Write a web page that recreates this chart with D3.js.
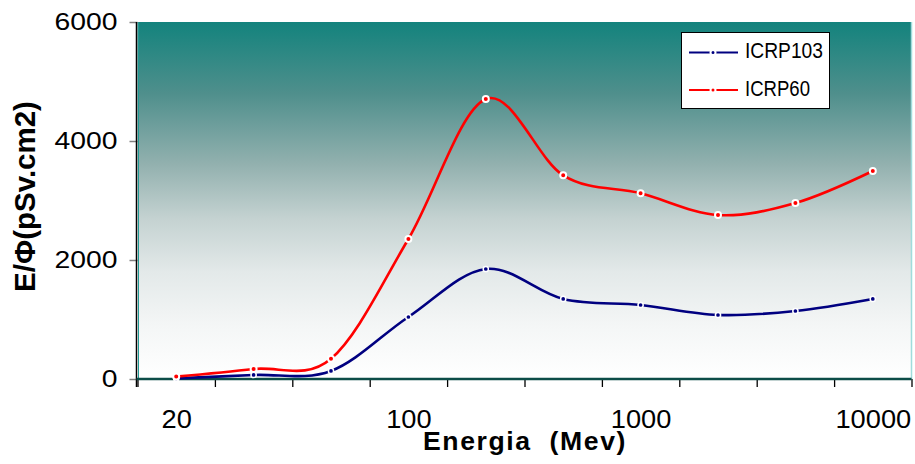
<!DOCTYPE html>
<html><head><meta charset="utf-8">
<script src="https://cdn.jsdelivr.net/npm/d3@7/dist/d3.min.js"></script>
<style>
html,body{margin:0;padding:0;background:#fff;}
svg{display:block;font-family:"Liberation Sans",Arial,sans-serif;}
</style></head>
<body><svg id="c" width="915" height="464"></svg>
<script>
// ---- data ----
const categories = ["20","30","50","100","200","500","1000","2000","5000","10000"];
const shownLabels = ["20","100","1000","10000"];
const icrp103 = [10, 68, 135, 1042, 1849, 1345, 1244, 1076, 1143, 1345];
const icrp60  = [40, 168, 341, 2353, 4706, 3423, 3120, 2756, 2958, 3496];
const yTicks = [0, 2000, 4000, 6000];
const seriesNames = ["ICRP103", "ICRP60"];

// ---- layout ----
const L = 137.5, R = 911.5, T = 22, B = 379;
const svg = d3.select("#c");
const x = d3.scaleLinear().domain([0, categories.length]).range([L, R]);
const y = d3.scaleLinear().domain([0, 6000]).range([B, T]);
const cx = i => x(i + 0.5);

// gradient
const defs = svg.append("defs");
const g = defs.append("linearGradient").attr("id","bg").attr("x1",0).attr("y1",0).attr("x2",0).attr("y2",1);
[[0,"#13837d"],[0.2,"#4f8f8c"],[0.4,"#93b1af"],[0.55,"#c4d2d1"],[0.7,"#e3e9e9"],[0.85,"#f4f6f6"],[1,"#ffffff"]]
  .forEach(([o,c]) => g.append("stop").attr("offset",o).attr("stop-color",c));

svg.append("rect").attr("x",L).attr("y",T).attr("width",R-L).attr("height",B-T).attr("fill","url(#bg)");
svg.append("line").attr("x1",L+1).attr("x2",L+1).attr("y1",T).attr("y2",B).attr("stroke","#1f9a94").attr("stroke-width",1);
svg.append("line").attr("x1",R).attr("x2",R).attr("y1",T).attr("y2",B).attr("stroke","#9fdcdc").attr("stroke-width",1.5);

function stretch(sel, k){
  sel.each(function(){ const w=this.getComputedTextLength(); this.setAttribute("textLength", w*k); this.setAttribute("lengthAdjust","spacingAndGlyphs"); });
}

// y axis
const yAx = svg.append("g").attr("transform",`translate(${L},0)`)
  .call(d3.axisLeft(y).tickValues(yTicks).tickSize(8).tickPadding(12).tickFormat(d3.format("d")));
yAx.select(".domain").remove();
yAx.selectAll("line").attr("stroke","#808080").attr("stroke-width",1.5);
yAx.selectAll("text").attr("font-size",24).attr("fill","#000").style("font-family","Liberation Sans, Arial, sans-serif").call(stretch,1.18);
svg.append("line").attr("x1",L-1).attr("x2",L-1).attr("y1",T).attr("y2",B+8).attr("stroke","#000").attr("stroke-width",1.5);

// x axis ticks (between categories)
const xAx = svg.append("g").attr("transform",`translate(0,${B})`)
  .call(d3.axisBottom(x).tickValues(d3.range(categories.length+1)).tickSize(8).tickFormat(""));
xAx.select(".domain").remove();
xAx.selectAll("line").attr("stroke","#000").attr("stroke-width",1.3);
// x labels
const xLab = svg.append("g").attr("transform",`translate(0,${B})`)
  .call(d3.axisBottom(x).tickValues(categories.map((c,i)=>i+0.5).filter((v,i)=>shownLabels.includes(categories[i])))
        .tickSize(0).tickPadding(31).tickFormat(v => categories[Math.floor(v)]));
xLab.select(".domain").remove();
xLab.selectAll("text").attr("font-size",25).attr("fill","#000").style("font-family","Liberation Sans, Arial, sans-serif").call(stretch,1.09);
svg.append("line").attr("x1",L-1).attr("x2",R).attr("y1",B).attr("y2",B).attr("stroke","#0c4c47").attr("stroke-width",2.5);

// titles
svg.append("text").attr("x",423).attr("y",450).attr("font-size",25).attr("font-weight","bold")
  .style("white-space","pre").style("letter-spacing","1.5px")
  .attr("textLength",204).attr("lengthAdjust","spacingAndGlyphs").text("Energia  (Mev)");
svg.append("text").attr("transform","translate(35,196.5) rotate(-90)").attr("text-anchor","middle")
  .attr("font-size",29.5).attr("font-weight","bold").text("E/Φ(pSv.cm2)");

// series
const line = d3.line().x((d,i)=>cx(i)).y(d=>y(d)).curve(d3.curveCatmullRom.alpha(0));
const series = [
  {name: seriesNames[0], vals: icrp103, color: "#000080", r: 2.6, sw: 1.5},
  {name: seriesNames[1], vals: icrp60, color: "#ff0000", r: 3, sw: 2}
];
series.forEach(s => {
  svg.append("path").attr("d", line(s.vals)).attr("fill","none").attr("stroke",s.color).attr("stroke-width",2.6);
  svg.append("g").selectAll("circle").data(s.vals).join("circle")
    .attr("cx",(d,i)=>cx(i)).attr("cy",d=>y(d)).attr("r",s.r)
    .attr("fill",s.color).attr("stroke","#fff").attr("stroke-width",s.sw);
});

// legend
const lg = svg.append("g");
lg.append("rect").attr("x",681.5).attr("y",32.5).attr("width",148).attr("height",76).attr("fill","#fff").attr("stroke","#000").attr("stroke-width",1);
const lw = [78, 65];
series.forEach((s,k) => {
  const yy = k===0 ? 52.5 : 90;
  lg.append("line").attr("x1",689).attr("x2",738).attr("y1",yy).attr("y2",yy).attr("stroke",s.color).attr("stroke-width",2);
  lg.append("circle").attr("cx",713).attr("cy",yy).attr("r",2.5).attr("fill",s.color).attr("stroke","#fff").attr("stroke-width",2);
  lg.append("text").attr("x",745).attr("y",yy+5.8).attr("font-size",22).attr("textLength",lw[k]).attr("lengthAdjust","spacingAndGlyphs").text(s.name);
});
</script>
</body></html>
